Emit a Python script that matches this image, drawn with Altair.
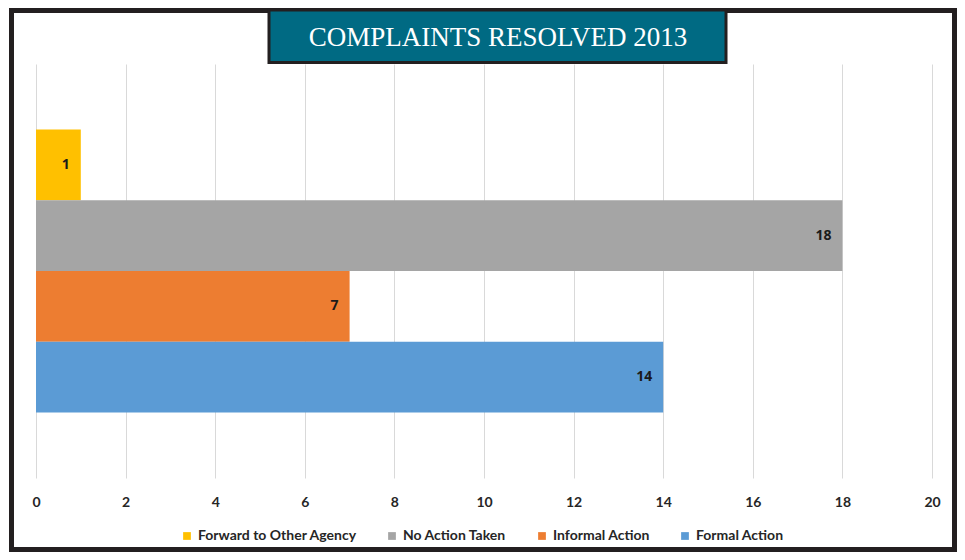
import altair as alt
import pandas as pd

categories = ["Forward to Other Agency", "No Action Taken", "Informal Action", "Formal Action"]
values = [1, 18, 7, 14]
colors = ["#FFC000", "#A5A5A5", "#ED7D31", "#5B9BD5"]
x_ticks = [0, 2, 4, 6, 8, 10, 12, 14, 16, 18, 20]
title_text = "COMPLAINTS RESOLVED 2013"

df = pd.DataFrame({"category": categories, "value": values})
one = pd.DataFrame({"k": [0]})

LABEL_FONT = "Liberation Sans Narrow, Lato, sans-serif"

y_enc = alt.Y("category:N", sort=categories, axis=None,
              scale=alt.Scale(paddingInner=0, paddingOuter=0.924))
x_enc = alt.X("value:Q",
              scale=alt.Scale(domain=[0, 20], nice=False),
              axis=alt.Axis(values=x_ticks, title=None, grid=True, gridColor="#d9d9d9",
                            gridWidth=1, ticks=False, domain=False, labelPadding=17,
                            labelFlush=False,
                            labelFont=LABEL_FONT, labelFontSize=14, labelFontWeight="bold",
                            labelColor="#262626"))

bars = alt.Chart(df).mark_bar().encode(
    x=x_enc,
    y=y_enc,
    color=alt.Color("category:N", scale=alt.Scale(domain=categories, range=colors),
                    legend=alt.Legend(orient="none", legendX=144, legendY=465,
                                      direction="horizontal", title=None,
                                      symbolType="square", symbolSize=60, symbolStrokeWidth=0,
                                      labelFont=LABEL_FONT, labelFontSize=14,
                                      labelFontWeight="bold", labelColor="#262626",
                                      columnPadding=28, labelOffset=4)),
)

labels = alt.Chart(df).mark_text(align="right", baseline="middle", dx=-11,
                                 font="Open Sans, sans-serif", fontSize=14,
                                 fontWeight="bold", color="#1a1a1a").encode(
    x="value:Q",
    y=alt.Y("category:N", sort=categories),
    text="value:Q",
)

border = alt.Chart(one).mark_rect(filled=False, stroke="#231f20", strokeWidth=5).encode(
    x=alt.value(-24.5), x2=alt.value(918.5), y=alt.value(-53.5), y2=alt.value(485.5)
)

title_box = alt.Chart(one).mark_rect(fill="#006a83", stroke="#231f20", strokeWidth=3).encode(
    x=alt.value(233), x2=alt.value(690), y=alt.value(-54), y2=alt.value(-1.5)
)

title = alt.Chart(one).mark_text(text=title_text, font="Liberation Serif, serif",
                                 fontSize=27, color="white", align="center",
                                 baseline="middle").encode(
    x=alt.value(462), y=alt.value(-26)
)

chart = alt.layer(bars, labels, border, title_box, title).properties(
    width=896, height=414,
    padding={"left": 28, "top": 56, "right": 25, "bottom": 74},
    autosize=alt.AutoSizeParams(type="none"),
    background="white",
).configure_view(strokeWidth=0)

chart.save("out.html", embed_options={"renderer": "svg", "actions": False})
